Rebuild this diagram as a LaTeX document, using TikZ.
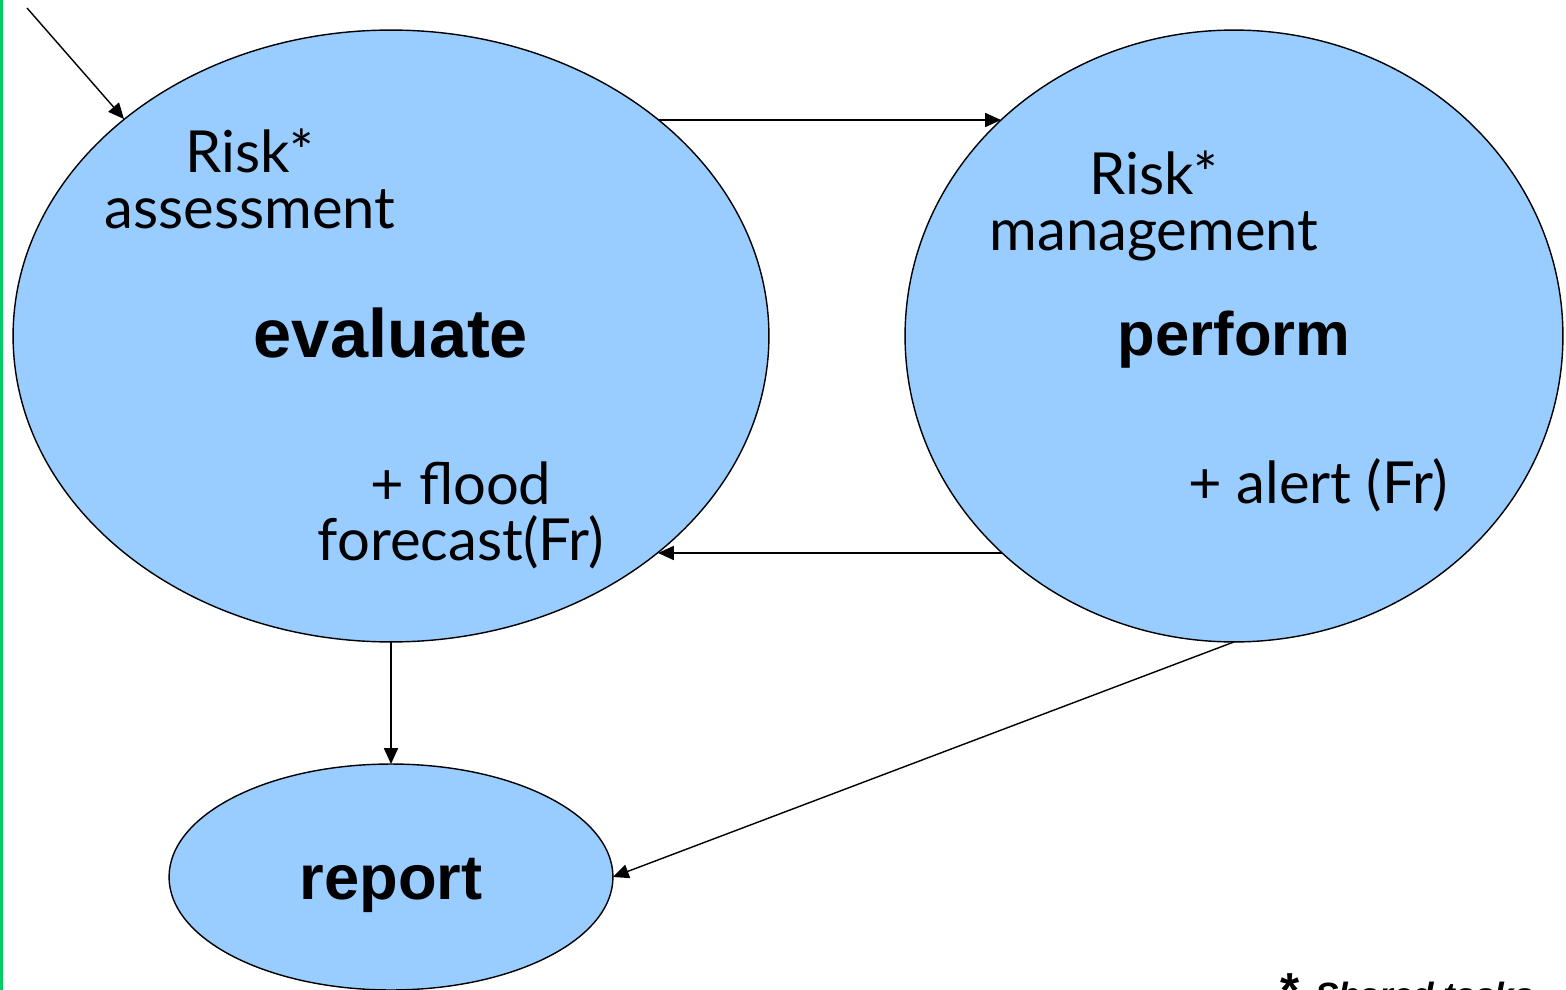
\documentclass[tikz,border=0pt]{standalone}
\usepackage{fontspec}
\setmainfont{Lato}
\newfontfamily\boldfont{Liberation Sans}
\usetikzlibrary{shapes.geometric,arrows.meta,calc}
\definecolor{skyblue}{RGB}{153,204,255}
\definecolor{edgegreen}{RGB}{0,204,102}
\begin{document}
\begin{tikzpicture}[x=0.02cm,y=-0.02cm,
    blob/.style={ellipse,draw,line width=0.8pt,fill=skyblue,inner sep=0pt,outer sep=0pt,
      text depth=0pt,font=\boldfont\bfseries},
    lbl/.style={align=center,font=\fontsize{33}{31.7}\selectfont},
    arr/.style={-{Triangle[length=9pt,width=8pt]},line width=0.8pt}]
        \useasboundingbox (0,0) rectangle (1566,990);
        \fill[edgegreen] (0,0) rectangle (3,990);

        \node[blob,minimum width=15.12cm,minimum height=12.24cm,text height=25pt] (eval) at (391,336) {\fontsize{39}{40}\selectfont evaluate};
        \node[blob,minimum width=13.16cm,minimum height=12.24cm,text height=22pt] (perf) at (1234,336) {\fontsize{35}{40}\selectfont perform};
        \node[blob,minimum width=8.88cm,minimum height=4.52cm,text height=26pt] (rep) at (391,877) {\fontsize{36}{40}\selectfont report};

        \node[lbl,anchor=base] (riskA) at (250,228) {Risk*\\assessment};
        \node[lbl,anchor=base] (flood) at (461,560) {+ flood\\forecast(Fr)};
        \node[lbl,anchor=base] (riskM) at (1154,250) {Risk*\\management};
        \node[lbl,anchor=base] (alert) at (1318,503) {+ alert (Fr)};
        \node[anchor=base west,inner sep=0pt,font=\boldfont\bfseries\itshape\fontsize{20}{22}\selectfont] (note) at (1278,1007) {{\fontsize{28}{30}\selectfont *}\enspace Shared tasks};

        \coordinate (in) at (27,8);
        \draw[arr] (in) -- ($(eval.center)+(-267,-217)$);
        \draw[arr] ($(eval.center)+(268,-216)$) -- ($(perf.center)+(-233,-216)$);
        \draw[arr] ($(perf.center)+(-232,217)$) -- ($(eval.center)+(267,217)$);
        \draw[arr] (eval.south) -- (rep.north);
        \draw[arr] (perf.south) -- (rep.east);
      \end{tikzpicture}
\end{document}
